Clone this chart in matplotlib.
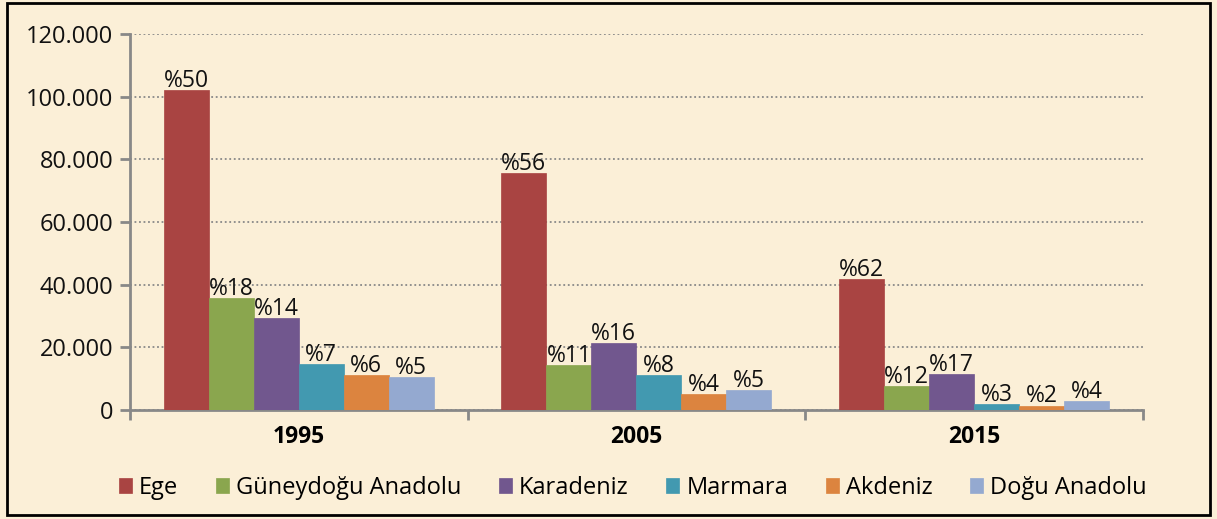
import matplotlib
matplotlib.use("Agg")
import matplotlib.pyplot as plt
import numpy as np
from matplotlib.patches import Rectangle

years = ["1995", "2005", "2015"]
regions = ["Ege", "Güneydoğu Anadolu", "Karadeniz", "Marmara", "Akdeniz", "Doğu Anadolu"]
ege = [102000, 75500, 41700]
guneydogu = [35600, 14300, 7700]
karadeniz = [29300, 21300, 11400]
marmara = [14600, 11200, 1900]
akdeniz = [11100, 5200, 1400]
dogu = [10400, 6300, 2800]
shares = [["%50", "%56", "%62"], ["%18", "%11", "%12"], ["%14", "%16", "%17"],
          ["%7", "%8", "%3"], ["%6", "%4", "%2"], ["%5", "%5", "%4"]]
yticks = [0, 20000, 40000, 60000, 80000, 100000, 120000]
ytick_labels = ["0", "20.000", "40.000", "60.000", "80.000", "100.000", "120.000"]

colors = ["#A94442", "#8AA64E", "#71578E", "#4299B0", "#DC843F", "#94A9D0"]
series = [ege, guneydogu, karadeniz, marmara, akdeniz, dogu]

plt.rcParams['font.family'] = ['Open Sans', 'DejaVu Sans']
fs = 17
bg = "#FBEFD7"
fig = plt.figure(figsize=(12.17, 5.19), dpi=100, facecolor=bg)
ax = fig.add_axes([0.1068, 0.21, 0.8322, 0.7245])
ax.set_facecolor("none")

x = np.arange(len(years))
bw = 0.8 / 6
for i, (vals, c) in enumerate(zip(series, colors)):
    pos = x - 0.4 + bw * (i + 0.5)
    ax.bar(pos, vals, width=bw, color=c, edgecolor=c, linewidth=0.5, label=regions[i], zorder=3)
    for p, v, s in zip(pos, vals, shares[i]):
        ax.text(p, v - 900, s, ha="center", va="bottom", fontsize=fs - 0.5, color="#111111", zorder=4)

ax.set_xlim(-0.5, 2.5)
ax.set_ylim(0, 120000)
ax.set_yticks(yticks)
ax.set_yticklabels(ytick_labels, fontsize=fs)
ax.set_xticks(x)
ax.set_xticklabels(years, fontsize=fs - 0.5, fontweight="bold")
ax.tick_params(axis="x", length=0, pad=11)
ax.set_xticks([-0.5, 0.5, 1.5, 2.5], minor=True)
ax.tick_params(axis="x", which="minor", length=7, color="#888888", width=2)
ax.tick_params(axis="y", length=7, color="#888888", width=2, pad=5, labelcolor="#111111")
for side in ["top", "right"]:
    ax.spines[side].set_visible(False)
for side in ["left", "bottom"]:
    ax.spines[side].set_color("#888888")
    ax.spines[side].set_linewidth(2)
ax.yaxis.grid(True, linestyle=(0, (1, 1.5)), color="#888888", linewidth=1.3, zorder=0)
ax.set_axisbelow(True)

leg = fig.legend(loc="center", bbox_to_anchor=(0.52, 0.06), ncol=6, frameon=False,
                 fontsize=fs, handlelength=0.55, handleheight=0.55, handletextpad=0.3,
                 columnspacing=1.6)

fig.patches.append(Rectangle((0.006, 0.008), 0.988, 0.986, transform=fig.transFigure,
                             fill=False, edgecolor="black", linewidth=2))
fig.savefig("out.png", dpi=100, facecolor=bg)
